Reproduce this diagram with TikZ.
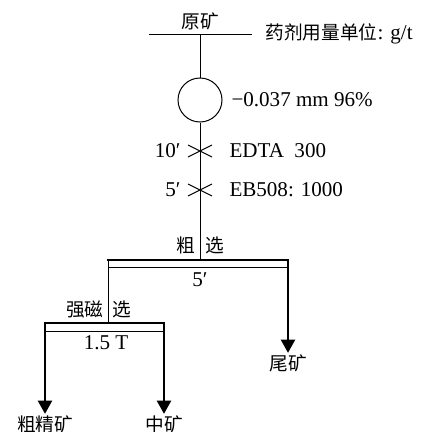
\documentclass[tikz,border=0pt]{standalone}
\usepackage{fontspec}
\setmainfont{Liberation Serif}
\newfontfamily\cjk{Noto Sans CJK SC}
\usetikzlibrary{arrows.meta}

\tikzset{every picture/.style={line width=0.75pt}}
\tikzset{
  lbl/.style={inner sep=0.75pt, font=\fontsize{15.8}{18}\selectfont},
  cn/.style={inner sep=0.75pt, font=\fontsize{14}{16}\selectfont\cjk},
  flow/.style={line width=0.75pt},
  bar/.style={line width=2pt},
  outflow/.style={line width=2pt, -{Triangle[width=10.5pt,length=10pt]}},
  addmark/.style={line width=0.75pt},
}

\begin{document}
\begin{tikzpicture}[x=0.75pt,y=0.75pt,yscale=-1,xscale=1]
\useasboundingbox (0,0) rectangle (427,432);

%Feed line
\coordinate (feedL) at (149,34);
\coordinate (feedR) at (252,34);
\coordinate (feedM) at (200,34);
\draw [flow] (feedL) -- (feedR) ;
% Text Node
\node [cn, anchor=south] (feed) at (200,31) {原矿};
% Text Node
\node [anchor=west, inner sep=0.75pt] (unit) at (264,34) {\cjk\fontsize{14}{16}\selectfont 药剂用量单位\fontsize{15.8}{18}\selectfont\rmfamily: g/t};

%Grinding
\node [draw, circle, minimum size=44*0.75pt, inner sep=0pt, flow] (mill) at (200,100) {};
\draw [flow] (feedM) -- (mill) ;
% Text Node
\node [lbl, anchor=west] (grind) at (230,100) {−0.037 mm 96\%};

%Reagent additions
\coordinate (addA) at (200,151);
\coordinate (addB) at (200,190);
\draw [addmark] ([shift={(-12,-6)}]addA) -- ([shift={(12,6)}]addA) ([shift={(-12,6)}]addA) -- ([shift={(12,-6)}]addA) ;
\draw [addmark] ([shift={(-12,-6)}]addB) -- ([shift={(12,6)}]addB) ([shift={(-12,6)}]addB) -- ([shift={(12,-6)}]addB) ;
% Text Node
\node [lbl, anchor=east] (timeA) at (182,151) {10′};
\node [lbl, anchor=west] (reagA) at (228,151) {EDTA\ \ 300};
\node [lbl, anchor=east] (timeB) at (182,190) {5′};
\node [lbl, anchor=west] (reagB) at (228,190) {EB508: 1000};

%Rougher
\coordinate (roughM) at (200,260);
\coordinate (roughL) at (108,260);
\coordinate (roughR) at (288,260);
\coordinate (roughLb) at (108,267);
\coordinate (roughRb) at (288,267);
\draw [flow] (mill) -- (roughM) ;
\draw [bar] ([xshift=-0.7]roughL) -- ([xshift=0.7]roughR) ;
\draw [flow] (roughLb) -- (roughRb) ;
\draw [flow] (roughL) -- (roughLb) ;
\draw [flow] (roughR) -- (roughRb) ;
% Text Node
\node [cn, anchor=east] (roughA) at (197,245) {粗};
\node [cn, anchor=west] (roughB) at (204,245) {选};
\node [lbl] (roughT) at (200,280) {5′};

%Tailings
\node [cn] (tail) at (288,363) {尾矿};
\draw [outflow] (roughR) -- (tail.north) ;

%Magnetic separation
\coordinate (magM) at (108,323);
\coordinate (magL) at (45,323);
\coordinate (magR) at (164,323);
\coordinate (magLb) at (45,331);
\coordinate (magRb) at (164,331);
\draw [flow] (roughL) -- (magM) ;
\draw [bar] ([xshift=-0.7]magL) -- ([xshift=0.7]magR) ;
\draw [flow] (magLb) -- (magRb) ;
% Text Node
\node [cn, anchor=east] (magA) at (105,309) {强磁};
\node [cn, anchor=west] (magB) at (111,309) {选};
\node [lbl] (magT) at (106,343) {1.5 T};

%Products
\node [cn] (conc) at (45,424) {粗精矿};
\node [cn] (midd) at (164,424) {中矿};
\draw [outflow] (magL) -- (conc.north) ;
\draw [outflow] (magR) -- (midd.north) ;

\end{tikzpicture}
\end{document}
